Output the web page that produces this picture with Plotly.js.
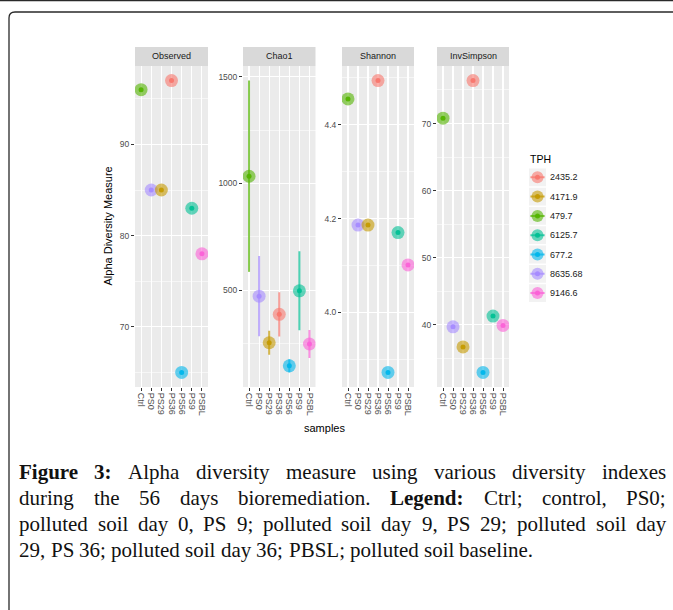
<!DOCTYPE html>
<html>
<head>
<meta charset="utf-8">
<script src="https://cdn.plot.ly/plotly-3.0.1.min.js"></script>
<style>
  html, body { margin: 0; padding: 0; background: #fff; }
  #chart { width: 673px; height: 610px; }
</style>
</head>
<body>
<div id="chart"></div>
<script>
// ---- data ----
const samples = ['Ctrl', 'PS0', 'PS29', 'PS36', 'PS56', 'PS9', 'PSBL'];
const sampleTPH = ['479.7', '8635.68', '4171.9', '2435.2', '677.2', '6125.7', '9146.6'];
const tphLevels = ['2435.2', '4171.9', '479.7', '6125.7', '677.2', '8635.68', '9146.6'];
const tphColors = ['#F8766D', '#C49A00', '#53B400', '#00C094', '#00B6EB', '#A58AFF', '#FB61D7'];

const observed   = [96, 85, 85, 97, 65, 83, 78];
const chao1      = [1034, 472, 254, 387, 146, 497, 248];
const chao1SE    = [448, 188, 56, 104, 31, 185, 66];
const shannon    = [4.455, 4.186, 4.186, 4.494, 3.872, 4.170, 4.101];
const invSimpson = [70.8, 39.7, 36.7, 76.4, 32.9, 41.3, 39.9];

const measureNames = ['Observed', 'Chao1', 'Shannon', 'InvSimpson'];
const xTitle = 'samples';
const yTitle = 'Alpha Diversity Measure';
const legendTitle = 'TPH';

const captionLines = [
  '<b>Figure</b> <b>3:</b> Alpha diversity measure using various diversity indexes',
  'during the 56 days bioremediation. <b>Legend:</b> Ctrl; control, PS0;',
  'polluted soil day 0, PS 9; polluted soil day 9, PS 29; polluted soil day',
  '29, PS 36; polluted soil day 36; PBSL; polluted soil baseline.'
];

// ---- page geometry (pixels) ----
const W = 673, H = 610;
const X = px => px / W;
const Y = py => 1 - py / H;
const panelPx = [[135, 208], [243, 315.5], [342, 414], [437, 509]];
const panelTop = 66, panelBottom = 387, stripTop = 47;

const panels = [
  { values: observed,   se: null,    dtick: 10,  minor: 5,   fmt: '' },
  { values: chao1,      se: chao1SE, dtick: 500, minor: 250, fmt: '' },
  { values: shannon,    se: null,    dtick: 0.2, minor: 0.1, fmt: '.1f' },
  { values: invSimpson, se: null,    dtick: 10,  minor: 5,   fmt: '' }
];

function rgba(hex, a) {
  const n = parseInt(hex.slice(1), 16);
  return `rgba(${(n >> 16) & 255},${(n >> 8) & 255},${n & 255},${a})`;
}
const sampleColor = samples.map((s, j) => tphColors[tphLevels.indexOf(sampleTPH[j])]);

const traces = [];
const layout = {
  width: W, height: H,
  margin: { l: 0, r: 0, t: 0, b: 0 },
  paper_bgcolor: '#ffffff',
  plot_bgcolor: 'rgba(0,0,0,0)',
  showlegend: false,
  font: { family: '"Liberation Sans", Arial, sans-serif', color: '#4D4D4D' },
  shapes: [],
  annotations: []
};

panels.forEach((p, k) => {
  const i = k + 1;
  const xa = 'x' + i, ya = 'y' + i;
  const lo = Math.min(...p.values.map((v, j) => v - (p.se ? p.se[j] : 0)));
  const hi = Math.max(...p.values.map((v, j) => v + (p.se ? p.se[j] : 0)));
  const pad = 0.05 * (hi - lo);

  layout['xaxis' + i] = {
    domain: [X(panelPx[k][0]), X(panelPx[k][1])],
    anchor: ya,
    type: 'category',
    categoryorder: 'array',
    categoryarray: samples,
    tickmode: 'array', tickvals: samples, ticktext: samples,
    range: [-0.6, samples.length - 0.4],
    showgrid: true, gridcolor: '#ffffff', gridwidth: 1.1,
    zeroline: false, showline: false,
    ticks: 'outside', ticklen: 3, tickwidth: 1, tickcolor: '#333333',
    tickangle: 90,
    tickfont: { size: 9, color: '#4D4D4D' },
    fixedrange: true
  };
  layout['yaxis' + i] = {
    domain: [Y(panelBottom), Y(panelTop)],
    anchor: xa,
    range: [lo - pad, hi + pad],
    tick0: 0, dtick: p.dtick, tickformat: p.fmt,
    showgrid: true, gridcolor: '#ffffff', gridwidth: 1.1,
    minor: { showgrid: true, dtick: p.minor, tick0: 0, gridcolor: '#ffffff', gridwidth: 0.55 },
    zeroline: false, showline: false,
    ticks: 'outside', ticklen: 3, tickwidth: 1, tickcolor: '#333333',
    tickfont: { size: 8.5, color: '#4D4D4D' },
    fixedrange: true
  };

  // panel background
  layout.shapes.push({
    type: 'rect', xref: xa + ' domain', yref: ya + ' domain',
    x0: 0, x1: 1, y0: 0, y1: 1, fillcolor: '#EBEBEB', line: { width: 0 }, layer: 'below'
  });
  // facet strip
  layout.shapes.push({
    type: 'rect', xref: xa + ' domain', yref: 'paper',
    x0: 0, x1: 1, y0: Y(panelTop), y1: Y(stripTop), fillcolor: '#D9D9D9', line: { width: 0 }, layer: 'below'
  });
  layout.annotations.push({
    xref: xa + ' domain', yref: 'paper', x: 0.5, y: Y((panelTop + stripTop) / 2),
    text: measureNames[k], showarrow: false, xanchor: 'center', yanchor: 'middle',
    font: { size: 9, color: '#1A1A1A' }
  });

  // error bars (one trace per sample so each keeps its colour)
  if (p.se) {
    samples.forEach((s, j) => {
      traces.push({
        type: 'scatter', mode: 'markers', xaxis: xa, yaxis: ya,
        x: [s], y: [p.values[j]],
        marker: { size: 1, color: 'rgba(0,0,0,0)' },
        error_y: { type: 'data', array: [p.se[j]], visible: true, width: 0, thickness: 2, color: rgba(sampleColor[j], 0.7) },
        hoverinfo: 'skip'
      });
    });
  }
  // translucent halo points
  traces.push({
    type: 'scatter', mode: 'markers', xaxis: xa, yaxis: ya,
    x: samples, y: p.values,
    marker: { size: 13, color: sampleColor, opacity: 0.6, line: { width: 0 } }
  });
  // solid centre points
  traces.push({
    type: 'scatter', mode: 'markers', xaxis: xa, yaxis: ya,
    x: samples, y: p.values,
    marker: { size: 5, color: sampleColor, opacity: 0.95, line: { width: 0 } }
  });
});

// ---- legend (TPH), drawn on its own hidden axes ----
const legIdx = tphLevels.map((t, k) => k);
layout.xaxis5 = { domain: [X(529), X(546)], anchor: 'y5', range: [-0.5, 0.5], visible: false, fixedrange: true };
layout.yaxis5 = { domain: [Y(302.75), Y(167.65)], anchor: 'x5', range: [tphLevels.length - 0.5, -0.5], visible: false, fixedrange: true };
legIdx.forEach(k => {
  layout.shapes.push({
    type: 'rect', xref: 'x5', yref: 'y5', x0: -0.5, x1: 0.5, y0: k - 0.46, y1: k + 0.46,
    fillcolor: '#F2F2F2', line: { width: 0 }, layer: 'below'
  });
  layout.annotations.push({
    xref: 'paper', yref: 'y5', x: X(549), y: k, text: tphLevels[k], showarrow: false,
    xanchor: 'left', yanchor: 'middle', borderpad: 0, font: { size: 9, color: '#1A1A1A' }
  });
  traces.push({
    type: 'scatter', mode: 'markers', xaxis: 'x5', yaxis: 'y5',
    x: [0], y: [k],
    marker: { size: 1, color: 'rgba(0,0,0,0)' },
    error_x: { type: 'data', array: [0.42], visible: true, width: 0, thickness: 2, color: rgba(tphColors[k], 0.7) }
  });
});
traces.push({
  type: 'scatter', mode: 'markers', xaxis: 'x5', yaxis: 'y5',
  x: legIdx.map(() => 0), y: legIdx,
  marker: { size: 12, color: tphColors, opacity: 0.6 }
});
traces.push({
  type: 'scatter', mode: 'markers', xaxis: 'x5', yaxis: 'y5',
  x: legIdx.map(() => 0), y: legIdx,
  marker: { size: 5, color: tphColors, opacity: 0.95 }
});
layout.annotations.push({
  xref: 'paper', yref: 'paper', x: X(528), y: Y(159), text: legendTitle, showarrow: false,
  xanchor: 'left', yanchor: 'middle', font: { size: 10.5, color: '#000000' }
});

// ---- axis titles ----
layout.annotations.push({
  xref: 'paper', yref: 'paper', x: X(107), y: Y((panelTop + panelBottom) / 2), text: yTitle,
  textangle: -90, showarrow: false, xanchor: 'center', yanchor: 'middle',
  font: { size: 11, color: '#000000' }
});
layout.annotations.push({
  xref: 'paper', yref: 'paper', x: X((panelPx[0][0] + panelPx[3][1]) / 2 + 2), y: Y(428), text: xTitle,
  showarrow: false, xanchor: 'center', yanchor: 'middle',
  font: { size: 11, color: '#000000' }
});

// ---- frame ----
layout.shapes.push({
  type: 'line', xref: 'paper', yref: 'paper', x0: 0, x1: 1, y0: Y(0.6), y1: Y(0.6),
  line: { color: '#2a2a2a', width: 1.5 }
});
layout.shapes.push({
  type: 'path', xref: 'paper', yref: 'paper',
  path: `M ${X(9)} ${Y(640)} L ${X(9)} ${Y(18)} Q ${X(9)} ${Y(12)} ${X(15)} ${Y(12)} L ${X(700)} ${Y(12)}`,
  line: { color: '#2a2a2a', width: 1.3 }
});

// ---- justified caption, one annotation per word ----
const capFont = '"Liberation Serif", "Times New Roman", serif';
const capSize = 21;
const capLeft = 19, capRight = 666;
const capCenters = [472, 498, 524, 550];
const ctx = document.createElement('canvas').getContext('2d');
function wordWidth(w) {
  const bold = w.indexOf('<b>') === 0;
  ctx.font = (bold ? 'bold ' : '') + capSize + 'px "Liberation Serif"';
  return ctx.measureText(w.replace(/<\/?b>/g, '')).width;
}
ctx.font = capSize + 'px "Liberation Serif"';
const spaceW = ctx.measureText(' ').width;
captionLines.forEach((line, li) => {
  const words = line.split(' ');
  const widths = words.map(wordWidth);
  const total = widths.reduce((a, b) => a + b, 0);
  const justify = li < captionLines.length - 1;
  const gap = justify ? (capRight - capLeft - total) / (words.length - 1) : spaceW;
  let x = capLeft;
  words.forEach((w, wi) => {
    layout.annotations.push({
      xref: 'paper', yref: 'paper', x: X(x), y: Y(capCenters[li]), text: w,
      showarrow: false, xanchor: 'left', yanchor: 'middle', borderpad: 0, borderwidth: 0,
      font: { family: capFont, size: capSize, color: '#111111' }
    });
    x += widths[wi] + gap;
  });
});

Plotly.newPlot('chart', traces, layout, { staticPlot: true, displayModeBar: false });
</script>
</body>
</html>
